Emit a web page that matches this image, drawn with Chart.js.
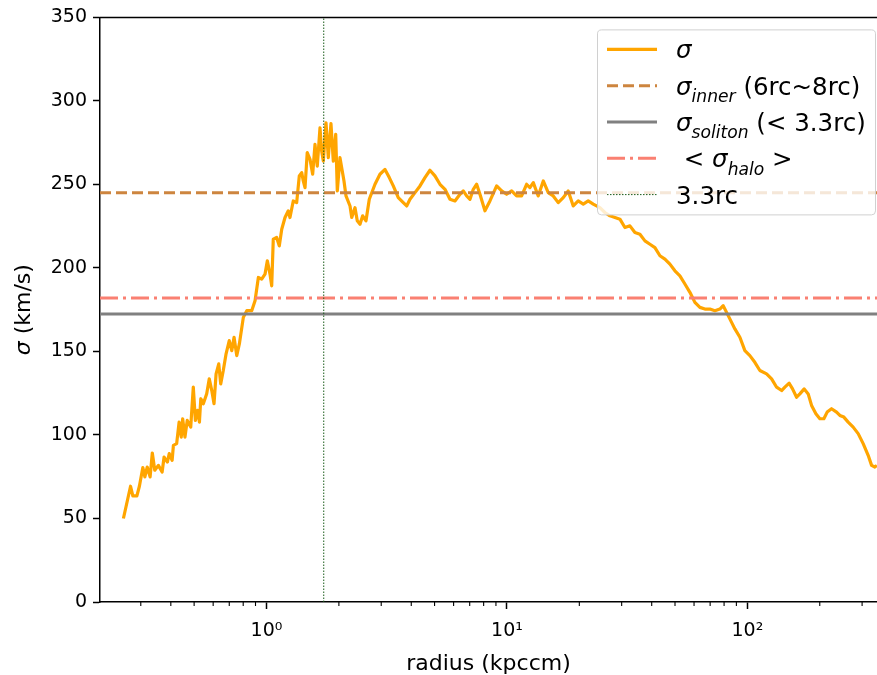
<!DOCTYPE html>
<html><head><meta charset="utf-8">
<script src="https://cdn.jsdelivr.net/npm/chart.js@4/dist/chart.umd.min.js"></script>
<style>html,body{margin:0;padding:0;background:#fff;}#wrap{width:877px;height:675px;position:relative;}</style>
</head><body><div id="wrap"><canvas id="c" width="877" height="675"></canvas></div>
<script>
// ---- data ----
const radius = [0.254,0.272,0.278,0.289,0.296,0.306,0.312,0.319,0.328,0.335,
0.343,0.355,0.368,0.375,0.387,0.394,0.405,0.410,0.423,0.433,
0.442,0.448,0.458,0.468,0.484,0.496,0.506,0.517,0.526,0.533,
0.546,0.564,0.578,0.592,0.605,0.617,0.633,0.645,0.661,0.679,
0.700,0.717,0.733,0.752,0.771,0.801,0.828,0.868,0.896,0.925,
0.955,0.986,1.008,1.034,1.051,1.067,1.102,1.130,1.157,1.194,
1.232,1.252,1.292,1.335,1.369,1.401,1.422,1.446,1.477,1.517,
1.556,1.591,1.626,1.669,1.696,1.723,1.768,1.807,1.854,1.896,
1.940,1.970,2.021,2.100,2.141,2.225,2.262,2.333,2.385,2.448,
2.512,2.593,2.676,2.826,2.964,3.110,3.241,3.367,3.532,3.706,
3.828,3.951,4.146,4.349,4.560,4.784,5.018,5.265,5.524,5.794,
6.079,6.377,6.582,6.799,7.019,7.244,7.482,7.722,8.100,8.497,
9.060,9.506,9.972,10.46,10.97,11.51,12.07,12.46,12.87,13.49,
14.16,14.85,15.58,16.34,17.15,17.98,18.87,19.79,20.77,21.78,
22.85,24.36,25.55,26.81,28.13,29.51,30.95,32.47,34.06,35.73,
37.49,39.33,41.25,43.28,45.39,47.62,49.95,52.40,54.97,57.67,
60.49,63.46,66.57,69.83,73.26,76.85,79.32,81.94,85.96,88.72,
93.07,97.63,102.4,107.4,112.7,120.2,126.1,132.3,138.8,143.2,
149.2,154.1,160.2,165.3,172.3,179.0,184.9,192.7,200.2,208.0,
214.7,223.9,234.9,242.5,251.9,262.5,275.4,288.9,303.1,317.9,
328.5,338.9,345.6];
const sigma = [50.0,69.3,63.5,63.5,69.3,80.5,74.9,80.8,74.9,89.2,
78.9,81.8,77.8,86.8,83.8,88.8,84.8,93.8,94.8,107.7,
98.7,109.7,98.7,108.7,104.7,128.6,108.7,114.7,107.7,121.7,
118.7,124.7,133.6,126.6,118.7,136.6,142.6,130.6,138.6,148.6,
156.5,150.5,158.5,147.5,154.5,170.4,174.4,174.4,180.4,194.3,
193.3,196.3,204.3,196.3,189.3,217.2,218.2,213.2,223.2,230.2,
234.2,230.2,240.1,239.1,255.1,257.1,252.1,248.1,269.0,265.0,
256.1,274.0,261.0,283.9,270.0,264.0,286.9,266.0,286.4,264.0,
280.0,246.1,266.0,252.1,243.1,237.1,230.2,236.1,228.2,226.2,
231.2,228.2,241.1,250.1,256.1,259.0,254.1,249.1,242.1,239.1,
237.1,241.1,245.1,249.1,254.1,258.5,255.1,250.1,247.1,241.1,
240.1,244.1,246.1,243.1,241.1,247.1,250.1,244.1,234.2,240.1,
249.1,246.1,244.1,246.1,243.1,243.1,250.1,248.1,251.1,243.1,
252.1,245.1,243.1,239.1,242.1,246.1,237.1,240.1,238.2,240.1,
238.2,236.1,233.2,231.2,230.2,229.2,224.2,225.2,221.2,220.2,
216.2,214.2,212.2,207.3,205.3,202.3,198.3,195.3,190.4,185.4,
179.4,176.4,175.4,175.4,174.4,175.4,177.4,173.4,167.4,163.5,
158.5,150.5,147.5,143.5,138.6,136.6,133.6,128.6,126.6,128.6,
131.0,127.6,122.6,124.6,127.6,124.6,117.7,112.7,109.7,109.7,
113.7,115.7,113.7,111.7,110.7,107.7,104.7,100.8,94.8,87.8,
81.8,80.8,81.8];
const sigmaInner = 245;
const sigmaSoliton = 172.5;
const sigmaHalo = 182;
const radius33rc = 1.73;
const xRange = [0.203, 346];
const yRange = [0, 350];
const yTicks = [0,50,100,150,200,250,300,350];
const xMajorTicks = [1,10,100];
const xTickLabels = ['10\u2070','10\u00b9','10\u00b2'];
const xMinorTicks = [0.3,0.4,0.5,0.6,0.7,0.8,0.9,2,3,4,5,6,7,8,9,20,30,40,50,60,70,80,90,200,300];
const legendLabels = [
  [{t:'\u03c3',it:1}],
  [{t:'\u03c3',it:1},{t:'inner',it:1,sub:1},{t:' (6rc~8rc)'}],
  [{t:'\u03c3',it:1},{t:'soliton',it:1,sub:1},{t:' (< 3.3rc)'}],
  [{t:' < '},{t:'\u03c3',it:1},{t:'halo',it:1,sub:1},{t:' >'}],
  [{t:'3.3rc'}]
];
const xTitle = 'radius (kpccm)';
const yTitle = [{t:'\u03c3',it:1},{t:' (km/s)'}];

const FONT = "'DejaVu Sans', sans-serif";
const FS = 19;      // tick labels
const FS_AX = 22;   // axis titles
const FS_LEG = 24.5; // legend

function drawRich(ctx, segs, x, y, size){
  segs.forEach(s=>{
    const fs = s.sub ? size*0.7 : size;
    ctx.font = (s.it?'italic ':'') + fs + 'px ' + FONT;
    ctx.fillText(s.t, x, y + (s.sub ? size*0.3 : 0));
    x += ctx.measureText(s.t).width;
  });
  return x;
}
function richWidth(ctx, segs, size){
  let w=0;
  segs.forEach(s=>{const fs=s.sub?size*0.7:size; ctx.font=(s.it?'italic ':'')+fs+'px '+FONT; w+=ctx.measureText(s.t).width;});
  return w;
}

const decor = {
  id:'decor',
  afterDraw(chart){
    const {ctx, chartArea:a, scales:{x}} = chart;
    ctx.save();
    ctx.strokeStyle='#000'; ctx.lineWidth=1.5;
    ctx.beginPath(); ctx.moveTo(a.left-0.75, a.top); ctx.lineTo(a.right, a.top); ctx.stroke();
    ctx.lineWidth=1.1;
    xMinorTicks.forEach(v=>{
      const px = x.getPixelForValue(v);
      ctx.beginPath(); ctx.moveTo(px, a.bottom); ctx.lineTo(px, a.bottom+4); ctx.stroke();
    });
    ctx.fillStyle='#000';
    ctx.textBaseline='alphabetic';
    // x title
    ctx.font = FS_AX+'px '+FONT;
    const xw = ctx.measureText(xTitle).width;
    ctx.fillText(xTitle, (a.left+a.right)/2 - xw/2, 670);
    // y title
    ctx.save();
    ctx.translate(30, (a.top+a.bottom)/2);
    ctx.rotate(-Math.PI/2);
    const yw = richWidth(ctx, yTitle, FS_AX);
    drawRich(ctx, yTitle, -yw/2, 0, FS_AX);
    ctx.restore();
    // legend
    const L = a.right - 280, T = a.top + 12, W = 278, H = 185;
    ctx.beginPath();
    ctx.roundRect(L+0.5, T+0.5, W, H, 4);
    ctx.fillStyle='rgba(255,255,255,0.8)'; ctx.fill();
    ctx.strokeStyle='#d0d0d0'; ctx.lineWidth=1; ctx.stroke();
    chart.data.datasets.forEach((ds,i)=>{
      const cy = T + 20 + i*36.3;
      ctx.save();
      ctx.strokeStyle = ds.borderColor; ctx.lineWidth = ds.borderWidth;
      ctx.setLineDash(ds.borderDash||[]);
      ctx.beginPath(); ctx.moveTo(L+10, cy); ctx.lineTo(L+60, cy); ctx.stroke();
      ctx.restore();
      ctx.fillStyle='#000';
      drawRich(ctx, legendLabels[i], L+79, cy+9, FS_LEG);
    });
    ctx.restore();
  }
};

const curve = radius.map((r,i)=>({x:r, y:sigma[i]}));
const hline = v => [{x:xRange[0], y:v},{x:xRange[1], y:v}];

new Chart(document.getElementById('c'), {
  type:'line',
  data:{datasets:[
    {label:'sigma', data:curve, borderColor:'#FFA500', borderWidth:3.2, pointRadius:0, tension:0, order:10, borderJoinStyle:'round'},
    {label:'inner', data:hline(sigmaInner), borderColor:'#CD853F', borderWidth:3, borderDash:[11,5], pointRadius:0, order:4},
    {label:'soliton', data:hline(sigmaSoliton), borderColor:'#808080', borderWidth:3, pointRadius:0, order:3},
    {label:'halo', data:hline(sigmaHalo), borderColor:'#FA8072', borderWidth:3, borderDash:[18,5,3,5], pointRadius:0, order:2},
    {label:'3.3rc', data:[{x:radius33rc,y:yRange[0]},{x:radius33rc,y:yRange[1]}], borderColor:'#1a5c1a', borderWidth:1, borderDash:[1.5,1.5], pointRadius:0, order:1}
  ]},
  options:{
    responsive:false, animation:false, devicePixelRatio:1,
    layout:{padding:{top:16,right:0,left:0,bottom:0}},
    plugins:{legend:{display:false}, tooltip:{enabled:false}},
    scales:{
      x:{type:'logarithmic', min:xRange[0], max:xRange[1],
        afterBuildTicks:s=>{ s.ticks = xMajorTicks.map(v=>({value:v, major:true})); },
        afterFit:s=>{ s.height = 73; },
        grid:{drawOnChartArea:false, drawTicks:true, tickLength:7, tickColor:'#000', tickWidth:1.5},
        border:{display:true, color:'#000', width:1.5},
        ticks:{autoSkip:false, maxRotation:0, padding:11, color:'#000', font:{family:FONT, size:FS},
          callback:(v)=>{const i=xMajorTicks.indexOf(v); return i>=0?xTickLabels[i]:'';}}
      },
      y:{type:'linear', min:yRange[0], max:yRange[1],
        afterBuildTicks:s=>{ s.ticks = yTicks.map(v=>({value:v})); },
        afterFit:s=>{ s.width = 100; },
        grid:{drawOnChartArea:false, drawTicks:true, tickLength:7, tickColor:'#000', tickWidth:1.5},
        border:{display:true, color:'#000', width:1.5},
        ticks:{padding:6, color:'#000', font:{family:FONT, size:FS}}
      }
    }
  },
  plugins:[decor]
});
</script></body></html>
